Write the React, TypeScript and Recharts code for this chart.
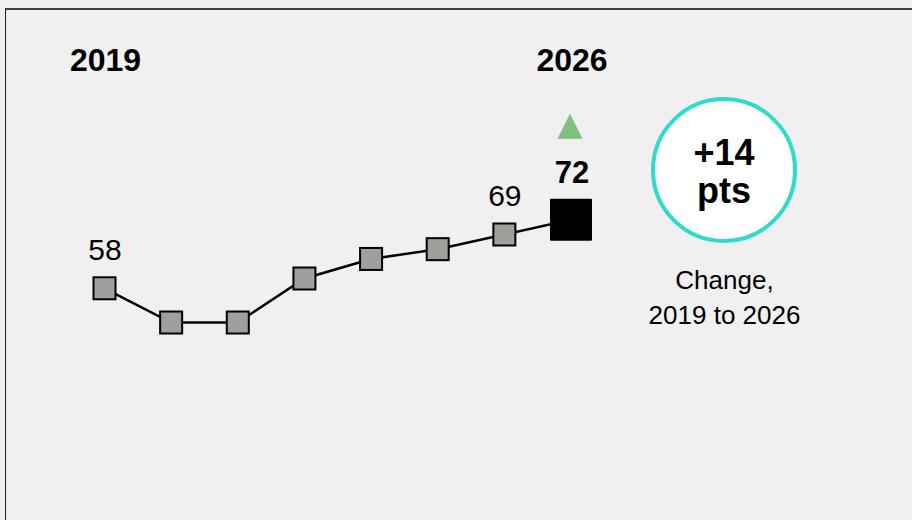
import { LineChart, Line, XAxis, YAxis, LabelList, Customized } from "recharts";

// Score per year; only the endpoints and the second-to-last year are annotated.
const YEARS = ["2019", "2020", "2021", "2022", "2023", "2024", "2025", "2026"];
const SCORES = [58, 51, 51, 60, 64, 66, 69, 72];
const HEADER_YEARS = ["2019", "2026"];
const VALUE_LABEL_YEARS = ["2019", "2025"];
const CHANGE_CAPTION = ["Change,", "2019 to 2026"];

const data = YEARS.map((year, i) => ({ year, score: SCORES[i] }));
const LAST = YEARS.length - 1;
const change = SCORES[LAST] - SCORES[0];

const FONT = "'Liberation Sans', Arial, sans-serif";

function SquareDot(props: any) {
  const { cx, cy, index } = props;
  if (cx == null || cy == null) return null;
  if (index === LAST) {
    return (
      <rect key={`dot-${index}`} x={cx - 21} y={cy - 21} width={42} height={42} rx={1} fill="#000" />
    );
  }
  return (
    <rect
      key={`dot-${index}`}
      x={cx - 11}
      y={cy - 11}
      width={22}
      height={22}
      fill="#a19f9c"
      stroke="#000"
      strokeWidth={2}
    />
  );
}

function PointLabels(props: any) {
  const { x, y, index, value } = props;
  const year = YEARS[index];
  return (
    <g fontFamily={FONT} fill="#000">
      {HEADER_YEARS.includes(year) && (
        <text x={x + 1} y={71} textAnchor="middle" fontSize={32} fontWeight="bold">
          {year}
        </text>
      )}
      {index === LAST ? (
        <>
          <path
            d={`M ${x - 1} ${y - 106} L ${x + 11.5} ${y - 81} L ${x - 13.5} ${y - 81} Z`}
            fill="#7fbf7f"
          />
          <text x={x + 1} y={y - 37} textAnchor="middle" fontSize={31} fontWeight="bold">
            {value}
          </text>
        </>
      ) : (
        VALUE_LABEL_YEARS.includes(year) && (
          <text x={x + 0.5} y={y - 28} textAnchor="middle" fontSize={30}>
            {value}
          </text>
        )
      )}
    </g>
  );
}

function ChangeBadge() {
  return (
    <g fontFamily={FONT} fill="#000" textAnchor="middle">
      <circle cx={724} cy={170} r={71} fill="#fff" stroke="#2edccb" strokeWidth={4} />
      <text x={724} y={165} fontSize={36} fontWeight="bold">
        {`+${change}`}
      </text>
      <text x={724} y={203} fontSize={36} fontWeight="bold">
        pts
      </text>
      {CHANGE_CAPTION.map((line, i) => (
        <text key={line} x={724.5} y={289 + i * 35} fontSize={26}>
          {line}
        </text>
      ))}
    </g>
  );
}

export default function App() {
  return (
    <div
      style={{
        position: "fixed",
        left: 0,
        top: 0,
        width: 912,
        height: 520,
        background: "#f0f0f0",
        overflow: "hidden",
      }}
    >
      <div
        style={{
          position: "absolute",
          left: 5,
          top: 8,
          width: 920,
          height: 520,
          borderTop: "2px solid #444",
          borderLeft: "1.5px solid #222",
        }}
      />
      <div style={{ position: "absolute", left: 0, top: 0 }}>
        <LineChart
          width={912}
          height={520}
          data={data}
          margin={{ top: 180.7, right: 341, bottom: 143.7, left: 104.5 }}
        >
          <XAxis dataKey="year" hide padding={{ left: 0, right: 0 }} />
          <YAxis hide domain={[40, 80]} />
          <Line
            dataKey="score"
            stroke="#000"
            strokeWidth={2.5}
            dot={SquareDot}
            activeDot={false}
            isAnimationActive={false}
          >
            <LabelList dataKey="score" content={PointLabels} />
          </Line>
          <Customized component={ChangeBadge} />
        </LineChart>
      </div>
    </div>
  );
}
